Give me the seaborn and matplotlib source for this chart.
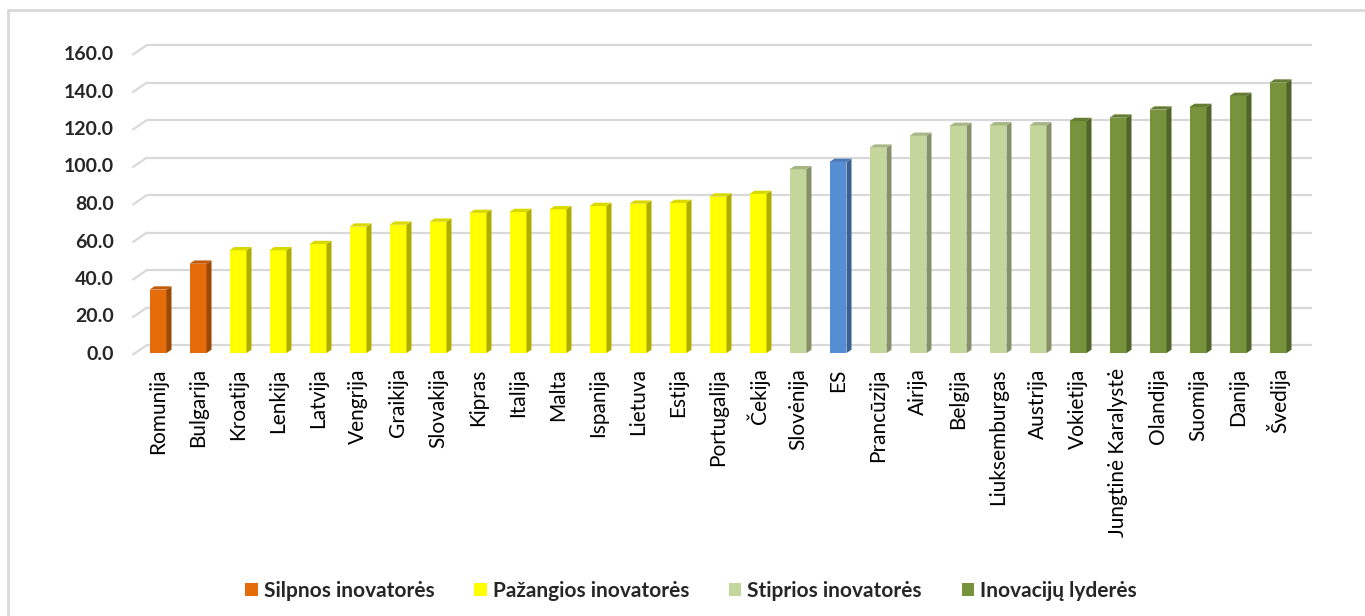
import numpy as np
import pandas as pd
import matplotlib
matplotlib.use("Agg")
import matplotlib.pyplot as plt
from matplotlib.patches import Polygon, Patch
from matplotlib.colors import to_rgb
import seaborn as sns

# Summary innovation index by country
countries = [
    "Romunija", "Bulgarija", "Kroatija", "Lenkija", "Latvija", "Vengrija",
    "Graikija", "Slovakija", "Kipras", "Italija", "Malta", "Ispanija",
    "Lietuva", "Estija", "Portugalija", "Čekija", "Slovėnija", "ES",
    "Prancūzija", "Airija", "Belgija", "Liuksemburgas", "Austrija",
    "Vokietija", "Jungtinė Karalystė", "Olandija", "Suomija", "Danija", "Švedija",
]
values = [
    33.8, 47.6, 54.8, 54.8, 58.1, 67.4,
    68.4, 70.0, 74.7, 75.2, 76.6, 78.4,
    79.6, 80.0, 83.4, 84.8, 98.0, 101.9,
    109.5, 115.8, 121.1, 121.4, 121.4,
    123.7, 125.5, 129.8, 131.2, 137.1, 144.2,
]
groups = (
    ["Silpnos inovatorės"] * 2
    + ["Pažangios inovatorės"] * 14
    + ["Stiprios inovatorės"]
    + ["ES"]
    + ["Stiprios inovatorės"] * 5
    + ["Inovacijų lyderės"] * 6
)
legend_groups = ["Silpnos inovatorės", "Pažangios inovatorės",
                 "Stiprios inovatorės", "Inovacijų lyderės"]
yticks = [0, 20, 40, 60, 80, 100, 120, 140, 160]

palette = {
    "Silpnos inovatorės": "#E46C0A",
    "Pažangios inovatorės": "#FFFF00",
    "Stiprios inovatorės": "#C3D69B",
    "ES": "#558ED5",
    "Inovacijų lyderės": "#77933C",
}

df = pd.DataFrame({"country": countries, "value": values, "group": groups})

sns.set_theme(style="white")
plt.rcParams["font.family"] = ["Lato", "DejaVu Sans"]

W, H = 1365, 616
fig = plt.figure(figsize=(W / 100, H / 100), dpi=100)
ax_left, ax_right = 133, 1298
ax_bottom, ax_top = 353, 53
ax = fig.add_axes([ax_left / W, 1 - ax_bottom / H,
                   (ax_right - ax_left) / W, (ax_bottom - ax_top) / H])

sns.barplot(data=df, x="country", y="value", hue="group", order=countries,
            palette=palette, dodge=False, width=0.425, saturation=1,
            legend=False, ax=ax, zorder=3)

ax.set_xlim(-0.625, 28.5)
ax.set_ylim(0, 160)
ax.set_xlabel("")
ax.set_ylabel("")
for s in ax.spines.values():
    s.set_visible(False)

# pixel -> data unit conversions
px_x = (ax_right - ax_left) / (ax.get_xlim()[1] - ax.get_xlim()[0])
px_y = (ax_bottom - ax_top) / 160.0


def shade(c, f):
    r, g, b = to_rgb(c)
    return (r * f, g * f, b * f)


# side and top faces give each column a shallow depth
dx, dy = 5.0 / px_x, 3.3 / px_y
for p in ax.patches:
    h = p.get_height()
    if h <= 0:
        continue
    x0 = p.get_x()
    x1 = x0 + p.get_width()
    fc = p.get_facecolor()
    side = Polygon([(x1, 0), (x1 + dx, dy), (x1 + dx, h + dy), (x1, h)],
                   closed=True, facecolor=shade(fc, 0.68), edgecolor="none",
                   zorder=3)
    top = Polygon([(x0, h), (x1, h), (x1 + dx, h + dy), (x0 + dx, h + dy)],
                  closed=True, facecolor=shade(fc, 0.85), edgecolor="none",
                  zorder=3)
    ax.add_patch(side)
    ax.add_patch(top)
    p.set_edgecolor("none")

# back-wall gridlines with a floor diagonal on the left
gx, gy = 14.0 / px_x, 8.0 / px_y
xl, xr = ax.get_xlim()
for v in yticks:
    ax.plot([xl + gx, xr + gx], [v + gy, v + gy], color="#D9D9D9", lw=1.6,
            zorder=1, clip_on=False, solid_capstyle="butt")
    ax.plot([xl, xl + gx], [v - 1.5 / px_y, v + gy], color="#D9D9D9",
            lw=1.6, zorder=1, clip_on=False)

ax.set_yticks(yticks)
ax.set_yticklabels([f"{v:.1f}" for v in yticks], fontsize=14,
                   fontweight="bold", color="#262626")
ax.tick_params(axis="y", length=0, pad=14)
ax.set_xticks(range(len(countries)))
ax.set_xticklabels(countries, rotation=90, fontsize=15, color="#000000")
ax.tick_params(axis="x", length=0, pad=11)

# outer chart frame
fig.add_artist(plt.Line2D([8 / W, 8 / W], [0, 1 - 10 / H],
                          color="#D9D9D9", lw=2, transform=fig.transFigure))
fig.add_artist(plt.Line2D([8 / W, 1], [1 - 10 / H, 1 - 10 / H],
                          color="#D9D9D9", lw=2, transform=fig.transFigure))

handles = [Patch(facecolor=palette[g], edgecolor="none") for g in legend_groups]
fig.legend(handles, legend_groups, loc="center", ncol=4,
           bbox_to_anchor=(691 / W, 1 - 591 / H), frameon=False,
           prop={"size": 15, "weight": "bold"}, handlelength=0.6,
           handleheight=0.6, handletextpad=0.3, columnspacing=1.9)

fig.savefig("out.png", dpi=100)
